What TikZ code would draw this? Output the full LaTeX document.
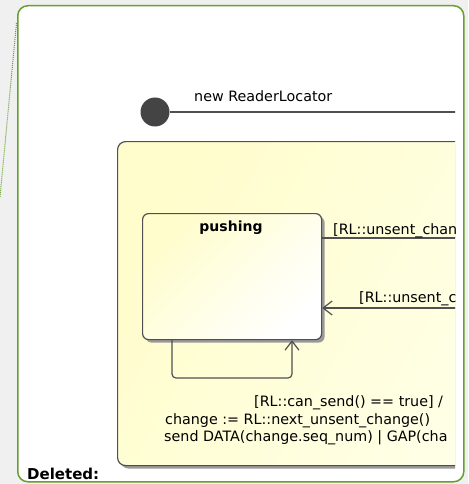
\documentclass[tikz,border=0pt]{standalone}
\usepackage{fontspec}
\setmainfont{DejaVu Sans}
\usetikzlibrary{arrows.meta,shadows}
\definecolor{bggray}{HTML}{F0F0F0}
\definecolor{framegreen}{HTML}{66A030}
\definecolor{linegray}{HTML}{505050}
\definecolor{dotgray}{HTML}{444444}
\definecolor{yellowA}{HTML}{FFFDCC}
\definecolor{yellowB}{HTML}{FFFFE8}
\definecolor{shadowgray}{HTML}{9A9A9A}
\begin{document}
\begin{tikzpicture}[x=1pt,y=-1pt,
  font=\fontsize{14.3}{17.5}\selectfont,
  frame/.style={draw=framegreen, line width=1.5pt, fill=white, rounded corners=10pt, inner sep=0pt, anchor=north west},
  linkdots/.style={draw=framegreen, line width=1pt, dash pattern=on 1pt off 1pt},
  compbox/.style={draw=linegray, line width=1.2pt, rounded corners=8pt, inner sep=0pt, anchor=north west,
     top color=yellowA, bottom color=yellowB, shading angle=60,
     drop shadow={shadow xshift=3pt, shadow yshift=-3pt, fill=shadowgray, opacity=1}},
  statebox/.style={draw=linegray, line width=1.2pt, rounded corners=6pt, inner sep=0pt, anchor=north west,
     top color=yellowA, bottom color=white, shading angle=45,
     drop shadow={shadow xshift=3pt, shadow yshift=-3pt, fill=shadowgray, opacity=1}},
  initdot/.style={circle, fill=dotgray, inner sep=0pt, minimum size=29pt},
  trans/.style={draw=linegray, line width=1.2pt},
  arr/.style={-{Straight Barb[length=9pt,width=14pt,line width=1.2pt]}},
  lbl/.style={anchor=base west, inner sep=0pt, text=black},
  boldlbl/.style={anchor=base, inner sep=0pt, font=\fontsize{14}{17}\selectfont\bfseries}
]
\useasboundingbox (0,0) rectangle (468,484);
\fill[bggray] (0,0) rectangle (468,484);
\node[frame, minimum width=446pt, minimum height=476pt] (frame) at (17,5) {};
\coordinate (d1) at (16.5,23);
\coordinate (d2) at (0,197);
\draw[linkdots] (d1) -- (d2);

\begin{scope}
\clip (18,6) rectangle (455,480);
\node[compbox, minimum width=420pt, minimum height=324pt] (comp) at (117,141) {};
\node[statebox, minimum width=179pt, minimum height=126pt] (pushing) at (142,213) {};
\node[boldlbl] (pushlbl) at (231,231) {pushing};

\node[initdot] (init) at (155,112) {};
\coordinate (e1) at (470,112);
\draw[trans] (init) -- (e1);
\node[lbl] (newrl) at (194,102) {new ReaderLocator};

\coordinate (e2) at (470,238);
\draw[trans] (pushing.east |- e2) -- (e2);
\node[lbl] (outl) at (333,234) {[RL::unsent\_chan};

\coordinate (e3) at (470,308);
\draw[trans, arr] (e3) -- (pushing.east |- e3);
\node[lbl] (inl) at (359,302) {[RL::unsent\_c};

\coordinate (s1) at (172,378);
\coordinate (s2) at (292,378);
\draw[trans, arr, rounded corners=4pt] (pushing.south -| s1) -- (s1) -- (s2) -- (pushing.south -| s2);
\node[lbl] (t1) at (254,406) {[RL::can\_send() == true] /};
\node[lbl] (t2) at (165,424) {change := RL::next\_unsent\_change()};
\node[lbl] (t3) at (164,441) {send DATA(change.seq\_num) | GAP(cha};
\end{scope}

\node[anchor=base west, inner sep=0pt, font=\fontsize{15}{18}\selectfont\bfseries] (deleted) at (27,479) {Deleted:};
\end{tikzpicture}
\end{document}
